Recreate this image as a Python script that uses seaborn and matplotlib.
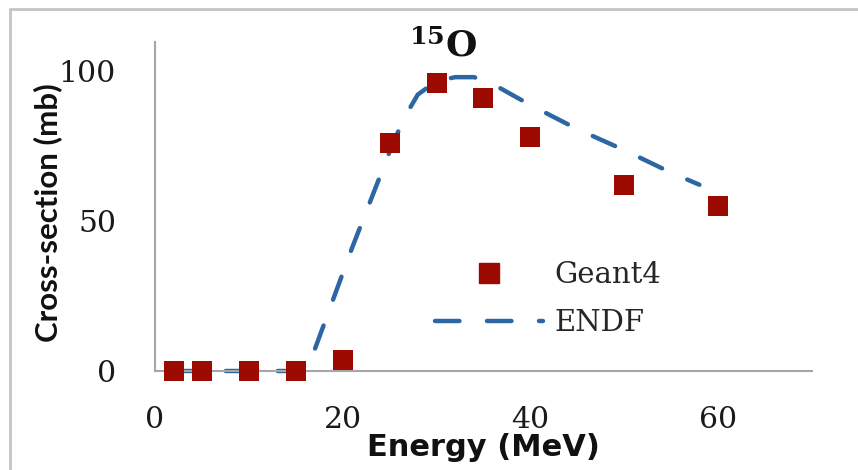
"""
Cross-section of the 15O production channel: Geant4 points against the ENDF curve.
"""

import matplotlib.patheffects as pe
import matplotlib.pyplot as plt
import pandas as pd
import seaborn as sns
from matplotlib.lines import Line2D

sns.set_style("white")
plt.rcParams["font.family"] = ["DejaVu Serif", "DejaVu Sans"]
plt.rcParams["mathtext.fontset"] = "dejavuserif"

# Geant4 simulated points (MeV, mb)
geant4_energy = [2, 5, 10, 15, 20, 25, 30, 35, 40, 50, 60]
geant4_xsec = [0, 0, 0, 0, 3.6, 76, 96, 91, 78, 62, 55]

# ENDF evaluated curve (MeV, mb)
endf_energy = [2, 16, 17, 19, 21, 23, 25, 26.5, 28, 30, 32, 34, 36, 40, 45, 50, 55, 58]
endf_xsec = [0, 0, 7, 24, 41, 57, 73, 84, 92, 96.5, 97.8, 97.8, 95.5, 88.5, 80.5, 73.5, 66, 62]

x_ticks = [0, 20, 40, 60]
y_ticks = [0, 50, 100]

RED = "#9C0A00"
BLUE = "#2C66A3"
AXIS_GREY = "#A6A6A6"
DASH = (0, (5.5, 6.2))

W, H = 858, 470
fig = plt.figure(figsize=(W / 100, H / 100), dpi=100)
ax = fig.add_axes([155 / W, 1 - 371 / H, (812 - 155) / W, (371 - 42) / H])

endf = pd.DataFrame({"energy": endf_energy, "xsec": endf_xsec})
geant = pd.DataFrame({"energy": geant4_energy, "xsec": geant4_xsec})

sns.lineplot(
    data=endf, x="energy", y="xsec", ax=ax, color=BLUE, linewidth=3.2,
    linestyle=DASH, dash_capstyle="round", zorder=2, clip_on=False,
)
pts = sns.scatterplot(
    data=geant, x="energy", y="xsec", ax=ax, color=RED, marker="s",
    s=200, linewidth=0, zorder=3, clip_on=False,
)
pts.collections[0].set_path_effects(
    [pe.SimplePatchShadow(offset=(2, -3), alpha=0.25), pe.Normal()]
)

ax.set_xlim(0, 70)
ax.set_ylim(0, 109.5)
ax.set_xticks(x_ticks)
ax.set_yticks(y_ticks)
ax.tick_params(axis="both", direction="out", color=AXIS_GREY, width=1.5,
               labelsize=21.5, labelcolor="#1a1a1a")
ax.tick_params(axis="x", length=8.5, pad=17)
ax.tick_params(axis="y", length=9, pad=19)

for side in ("top", "right"):
    ax.spines[side].set_visible(False)
for side in ("left", "bottom"):
    ax.spines[side].set_color(AXIS_GREY)
    ax.spines[side].set_linewidth(1.5)

ax.set_xlabel("Energy (MeV)", family="DejaVu Sans", weight="bold", size=22,
              color="#111111")
ax.set_ylabel("Cross-section (mb)", family="Lato", weight="bold", size=22.5,
              color="#111111")
ax.xaxis.set_label_coords(0.5, -0.234)
ax.xaxis.label.set_verticalalignment("center")
ax.yaxis.set_label_coords(-0.163, 0.48)
ax.yaxis.label.set_verticalalignment("center")

ax.text(30.7, 108, r"$\mathbf{^{15}O}$", fontsize=26, ha="center", va="center",
        color="#111111")

handles = [
    Line2D([], [], color=RED, marker="s", linestyle="none", markersize=14),
    Line2D([], [], color=BLUE, linewidth=3.2, linestyle=DASH,
           dash_capstyle="round"),
]
ax.legend(
    handles, ["Geant4", "ENDF"], loc="center left",
    bbox_to_anchor=(435 / W, 1 - 299 / H), bbox_transform=fig.transFigure,
    frameon=False, fontsize=21, handlelength=3.7, handletextpad=0.4,
    labelspacing=0.68, borderpad=0, borderaxespad=0,
)

# outer frame of the original figure (left and top edges only)
fig.add_artist(Line2D([10 / W, 10 / W], [0, 1 - 9 / H], color="#C4C4C4",
                      linewidth=2, transform=fig.transFigure))
fig.add_artist(Line2D([10 / W, 1], [1 - 9 / H, 1 - 9 / H], color="#C4C4C4",
                      linewidth=2, transform=fig.transFigure))

fig.savefig("out.png", dpi=100)
